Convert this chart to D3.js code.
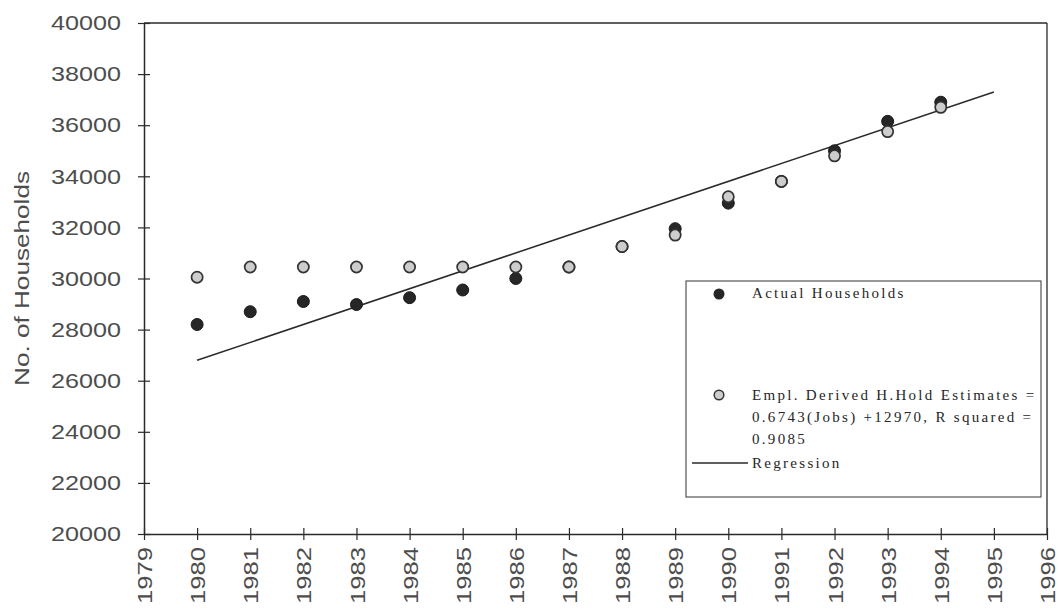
<!DOCTYPE html>
<html>
<head>
<meta charset="utf-8">
<script src="https://cdn.jsdelivr.net/npm/d3@7"></script>
<style>
  html, body { margin: 0; padding: 0; background: #fff; }
  svg { display: block; }
</style>
</head>
<body>
<svg id="chart" width="1058" height="612"></svg>
<script>
// ---- data ----
const years = [1980, 1981, 1982, 1983, 1984, 1985, 1986, 1987, 1988, 1989, 1990, 1991, 1992, 1993, 1994];
const actualHouseholds = [28200, 28700, 29100, 28980, 29250, 29550, 30000, 30450, 31250, 31950, 32950, 33800, 35000, 36150, 36900];
const derivedEstimates = [30050, 30450, 30450, 30450, 30450, 30450, 30450, 30450, 31250, 31700, 33200, 33800, 34800, 35750, 36700];
const regressionYears = [1980, 1995];
const regressionValues = [26800, 37300];
const yTicks = [20000, 22000, 24000, 26000, 28000, 30000, 32000, 34000, 36000, 38000, 40000];
const xTicks = [1979, 1980, 1981, 1982, 1983, 1984, 1985, 1986, 1987, 1988, 1989, 1990, 1991, 1992, 1993, 1994, 1995, 1996];
const legendLabels = ["Actual Households", "Empl. Derived H.Hold Estimates =", "0.6743(Jobs) +12970, R squared =", "0.9085", "Regression"];
const yTitle = "No. of Households";

// ---- layout ----
const L = 144, R = 1047, T = 23, B = 534;
const svg = d3.select("#chart");
const x = d3.scaleLinear().domain([1979, 1996]).range([L, R]);
const y = d3.scaleLinear().domain([20000, 40000]).range([B, T]);
const ink = "#2a2a2a";
const textCol = "#4d4d4d";

// frame (top and right borders)
svg.append("line").attr("x1", L).attr("x2", R).attr("y1", T).attr("y2", T)
  .attr("stroke", ink).attr("stroke-width", 1.3);
svg.append("line").attr("x1", R).attr("x2", R).attr("y1", T).attr("y2", B)
  .attr("stroke", ink).attr("stroke-width", 1.3);

// y axis
const gy = svg.append("g").attr("transform", `translate(${L},0)`)
  .call(d3.axisLeft(y).tickValues(yTicks).tickFormat(d3.format("d")).tickSizeInner(6).tickSizeOuter(0).tickPadding(17));
gy.select(".domain").attr("stroke", ink).attr("stroke-width", 1.5);
gy.selectAll(".tick line").attr("x1", 6).attr("stroke", ink).attr("stroke-width", 1.2);
gy.selectAll(".tick text")
  .attr("font-family", "'Liberation Sans', Arial, sans-serif")
  .attr("font-size", 21).attr("fill", textCol)
  .attr("textLength", 70).attr("lengthAdjust", "spacingAndGlyphs");

// x axis
const gx = svg.append("g").attr("transform", `translate(0,${B})`)
  .call(d3.axisBottom(x).tickValues(xTicks).tickFormat(d3.format("d")).tickSizeInner(6).tickSizeOuter(0));
gx.select(".domain").attr("stroke", ink).attr("stroke-width", 1.5);
gx.selectAll(".tick line").attr("y1", -6).attr("stroke", ink).attr("stroke-width", 1.2);
gx.selectAll(".tick text")
  .attr("font-family", "'Liberation Sans', Arial, sans-serif")
  .attr("font-size", 21).attr("fill", textCol)
  .attr("textLength", 57).attr("lengthAdjust", "spacingAndGlyphs")
  .attr("transform", "rotate(-90)")
  .attr("text-anchor", "end")
  .attr("x", -13).attr("y", 0).attr("dy", "0.36em");

// y title
svg.append("text")
  .attr("transform", `translate(29,${(T + B) / 2}) rotate(-90)`)
  .attr("text-anchor", "middle")
  .attr("font-family", "'Liberation Sans', Arial, sans-serif")
  .attr("font-size", 21).attr("fill", textCol)
  .attr("textLength", 215).attr("lengthAdjust", "spacingAndGlyphs")
  .text(yTitle);

// regression line
const reg = regressionYears.map((yr, i) => ({ yr, v: regressionValues[i] }));
svg.append("path").datum(reg)
  .attr("d", d3.line().x(d => x(d.yr)).y(d => y(d.v)))
  .attr("fill", "none").attr("stroke", ink).attr("stroke-width", 1.5);

// actual households (filled)
svg.append("g").selectAll("circle").data(years.map((yr, i) => ({ yr, v: actualHouseholds[i] })))
  .join("circle")
  .attr("cx", d => x(d.yr)).attr("cy", d => y(d.v)).attr("r", 6)
  .attr("fill", "#262626").attr("stroke", "#1a1a1a").attr("stroke-width", 1);

// derived estimates (open)
svg.append("g").selectAll("circle").data(years.map((yr, i) => ({ yr, v: derivedEstimates[i] })))
  .join("circle")
  .attr("cx", d => x(d.yr)).attr("cy", d => y(d.v)).attr("r", 5.6)
  .attr("fill", "#cdcdcd").attr("stroke", "#333").attr("stroke-width", 1.7);

// legend
const lg = svg.append("g");
lg.append("rect").attr("x", 686).attr("y", 281).attr("width", 355).attr("height", 216)
  .attr("fill", "#fff").attr("stroke", "#444").attr("stroke-width", 1.1);
const serif = "'Liberation Serif', 'Times New Roman', serif";
lg.append("circle").attr("cx", 719).attr("cy", 294).attr("r", 5.5).attr("fill", "#262626");
lg.append("circle").attr("cx", 719).attr("cy", 395).attr("r", 4.8).attr("fill", "#cdcdcd")
  .attr("stroke", "#333").attr("stroke-width", 1.5);
lg.append("line").attr("x1", 692).attr("x2", 748).attr("y1", 463).attr("y2", 463)
  .attr("stroke", ink).attr("stroke-width", 1.4);
const legendPos = [[752, 298], [752, 400], [752, 422], [752, 444], [752, 468]];
legendLabels.forEach((t, i) => {
  lg.append("text").attr("x", legendPos[i][0]).attr("y", legendPos[i][1])
    .attr("font-family", serif).attr("font-size", 15).attr("fill", "#262626")
    .attr("letter-spacing", 2.3)
    .text(t);
});
</script>
</body>
</html>
